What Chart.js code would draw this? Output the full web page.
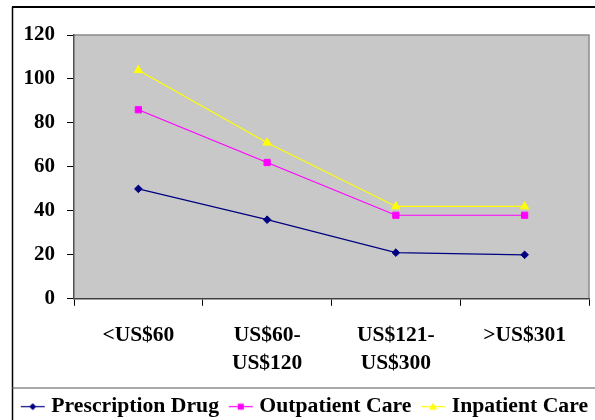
<!DOCTYPE html>
<html>
<head>
<meta charset="utf-8">
<script src="https://cdn.jsdelivr.net/npm/chart.js@4.4.1/dist/chart.umd.min.js"></script>
<style>
  html, body { margin: 0; padding: 0; background: #fff; overflow: hidden; }
  #wrap { width: 595px; height: 427px; }
</style>
</head>
<body>
<div id="wrap"><canvas id="costChart" width="595" height="427"></canvas></div>
<script>
const categories = ['<US$60', ['US$60-', 'US$120'], ['US$121-', 'US$300'], '>US$301'];
const prescriptionDrug = [50, 36, 21, 20];
const outpatientCare = [86, 62, 38, 38];
const inpatientCare = [104, 71, 42, 42];
const yMin = 0, yMax = 120, yStep = 20;

const seriesNames = ['Prescription Drug', 'Outpatient Care', 'Inpatient Care'];
const seriesColors = ['#000080', '#ff00ff', '#ffff00'];
const seriesMarkers = ['rectRot', 'rect', 'triangle'];

Chart.defaults.font.family = "'Liberation Serif', 'Times New Roman', serif";
Chart.defaults.font.weight = 'bold';
Chart.defaults.color = '#000';

// little line+marker icons for the legend
function makeIcon(color, marker) {
  const c = document.createElement('canvas');
  c.width = 42; c.height = 14;
  const g = c.getContext('2d');
  g.strokeStyle = color; g.fillStyle = color; g.lineWidth = 1.2;
  g.beginPath(); g.moveTo(16, 7.5); g.lineTo(40, 7.5); g.stroke();
  g.beginPath();
  if (marker === 'rectRot') {
    g.moveTo(28, 4); g.lineTo(31.5, 7.5); g.lineTo(28, 11); g.lineTo(24.5, 7.5);
  } else if (marker === 'rect') {
    g.rect(25, 4.5, 6, 6);
  } else {
    g.moveTo(28, 3.5); g.lineTo(32, 10.5); g.lineTo(24, 10.5);
  }
  g.closePath(); g.fill();
  return c;
}
const icons = seriesColors.map((c, i) => makeIcon(c, seriesMarkers[i]));

const frame = {
  id: 'frame',
  beforeDraw(chart) {
    const { ctx, chartArea: a } = chart;
    ctx.save();
    ctx.fillStyle = '#c8c8c8';
    ctx.fillRect(a.left, a.top, a.right - a.left, a.bottom - a.top);
    ctx.strokeStyle = '#8c8c8c';
    ctx.lineWidth = 1.5;
    ctx.beginPath();
    ctx.moveTo(a.left, a.top); ctx.lineTo(a.right, a.top); ctx.lineTo(a.right, a.bottom);
    ctx.stroke();
    ctx.strokeStyle = '#000';
    ctx.lineWidth = 2;
    ctx.beginPath(); ctx.moveTo(12, 7); ctx.lineTo(595, 7); ctx.stroke();
    ctx.lineWidth = 1.5;
    ctx.beginPath(); ctx.moveTo(12.5, 7); ctx.lineTo(12.5, 427); ctx.stroke();
    ctx.strokeStyle = '#555';
    ctx.lineWidth = 1.2;
    ctx.beginPath(); ctx.moveTo(12, 388); ctx.lineTo(595, 388); ctx.stroke();
    ctx.restore();
  }
};

const datasets = [prescriptionDrug, outpatientCare, inpatientCare].map((vals, i) => ({
  label: seriesNames[i],
  data: vals,
  borderColor: seriesColors[i],
  backgroundColor: seriesColors[i],
  borderWidth: 1.2,
  tension: 0,
  pointStyle: seriesMarkers[i],
  pointRadius: [3.8, 4.4, 4.8][i],
  pointBorderWidth: 1,
  pointHoverRadius: 5
}));

new Chart(document.getElementById('costChart'), {
  type: 'line',
  data: { labels: categories, datasets: datasets },
  plugins: [frame],
  options: {
    responsive: false,
    animation: false,
    layout: { padding: { top: 35, left: 11, right: 0, bottom: 0 } },
    scales: {
      x: {
        offset: true,
        grid: { offset: true, drawOnChartArea: false, drawTicks: true, tickLength: 7, color: '#000', lineWidth: 1 },
        border: { color: '#404040', width: 1.5 },
        ticks: { padding: 15, maxRotation: 0, autoSkip: false, font: { size: 21.5, lineHeight: 1.33 } },
        afterFit(scale) { scale.height = 96.5; }
      },
      y: {
        min: yMin, max: yMax,
        grid: { drawOnChartArea: false, drawTicks: true, tickLength: 7, color: '#000', lineWidth: 1 },
        border: { color: '#505050', width: 1.5 },
        ticks: { stepSize: yStep, padding: 12, font: { size: 21 } },
        afterFit(scale) { scale.width = 63; }
      },
      yR: {
        position: 'right',
        display: true,
        grid: { display: false },
        border: { display: false },
        ticks: { display: false },
        afterFit(scale) { scale.width = 6; }
      }
    },
    plugins: {
      legend: {
        position: 'bottom',
        align: 'start',
        labels: {
          usePointStyle: true,
          pointStyleWidth: 29.5,
          padding: 0,
          color: '#000',
          font: { size: 21.7 },
          generateLabels(chart) {
            const items = Chart.defaults.plugins.legend.labels.generateLabels(chart);
            items.forEach((it, i) => { it.pointStyle = icons[i]; });
            return items;
          }
        }
      },
      tooltip: { enabled: false }
    }
  }
});
</script>
</body>
</html>
